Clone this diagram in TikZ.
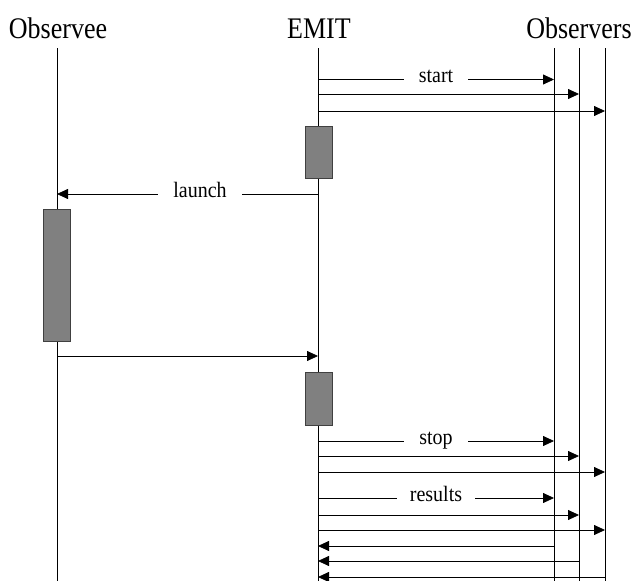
\documentclass[tikz,border=0pt]{standalone}
\usepackage{fontspec}
\setmainfont{Liberation Serif}
\usetikzlibrary{arrows.meta}
\newcommand{\tallText}[2]{\scalebox{1}[#1]{#2}}
\begin{document}
\begin{tikzpicture}[x=1pt,y=-1pt,
  life/.style={line width=0.8pt},
  msg/.style={line width=0.8pt,-{Triangle[length=11pt,width=10pt]}},
  act/.style={draw=black!75,fill=black!50,line width=0.8pt,inner sep=0pt,minimum width=27pt},
  head/.style={font=\fontsize{26}{30}\selectfont,anchor=base,inner sep=0pt},
  lbl/.style={font=\fontsize{20}{24}\selectfont,fill=white,anchor=base,inner xsep=15pt,inner ysep=2pt}]
\useasboundingbox (0,0) rectangle (633,581);

% participants
\node[head] (hee) at (58,38) {\tallText{1.15}{Observee}};
\node[head] (hem) at (319,38) {\tallText{1.15}{EMIT}};
\node[head] (hob) at (579,38) {\tallText{1.15}{Observers}};

% lifeline tops and bottoms
\coordinate (ee) at (57,48);
\coordinate (em) at (318,48);
\coordinate (o1) at (554,48);
\coordinate (o2) at (579,48);
\coordinate (o3) at (605,48);
\coordinate (bot) at (0,581);

\foreach \l in {ee,em,o1,o2,o3}
  \draw[life] (\l) -- (\l |- bot);

% activations
\node[act,minimum height=52pt] (a1) at (318.5,152) {};
\node[act,minimum height=132pt] (a2) at (56.5,275) {};
\node[act,minimum height=53pt] (a3) at (318.5,398.5) {};

% start
\draw[msg] (em |- 0,79.5) -- (o1 |- 0,79.5);
\node[lbl] (lstart) at (436,82.5) {\tallText{1.1}{start}};
\draw[msg] (em |- 0,94) -- (o2 |- 0,94);
\draw[msg] (em |- 0,111) -- (o3 |- 0,111);

% launch and its return
\draw[msg] (em |- 0,194) -- (ee |- 0,194);
\node[lbl] (llaunch) at (200,197) {\tallText{1.1}{launch}};
\draw[msg] (ee |- 0,356) -- (em |- 0,356);

% stop
\draw[msg] (em |- 0,441) -- (o1 |- 0,441);
\node[lbl] (lstop) at (436,444) {\tallText{1.1}{stop}};
\draw[msg] (em |- 0,456) -- (o2 |- 0,456);
\draw[msg] (em |- 0,472) -- (o3 |- 0,472);

% results
\draw[msg] (em |- 0,498) -- (o1 |- 0,498);
\node[lbl,inner xsep=13pt] (lresults) at (436,501) {\tallText{1.1}{results}};
\draw[msg] (em |- 0,515) -- (o2 |- 0,515);
\draw[msg] (em |- 0,530) -- (o3 |- 0,530);

% replies
\draw[msg] (o1 |- 0,546) -- (em |- 0,546);
\draw[msg] (o2 |- 0,561) -- (em |- 0,561);
\draw[msg] (o3 |- 0,577) -- (em |- 0,577);
\end{tikzpicture}
\end{document}
